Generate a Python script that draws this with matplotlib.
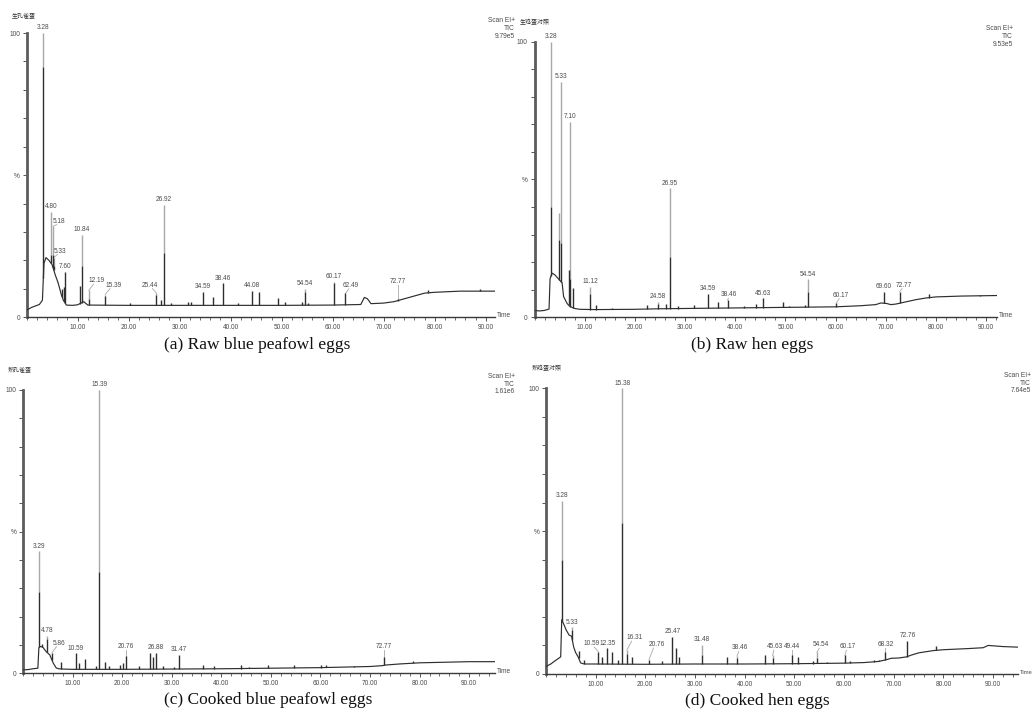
import numpy as np
import matplotlib
matplotlib.use("Agg")
import matplotlib.pyplot as plt
from matplotlib.ticker import MultipleLocator

# ---------------- data (retention time in min, intensity in %) ----------------
# (a) Raw blue peafowl eggs
a_base_t = [0, 1, 2.5, 3.1, 3.4, 3.8, 4.4, 5.0, 5.6, 6.2, 6.8, 7.2, 7.8, 9, 10, 11.2, 12, 20, 30, 40, 50, 60,
            65.5, 66.2, 66.8, 67.5, 70, 72, 74, 76, 78, 80, 85, 91.8]
a_base_v = [2.5, 3.5, 4.5, 6, 19, 21, 20, 18.5, 15, 12, 8, 6, 4.3, 4.2, 4.4, 5.5, 4.3, 4.2, 4.2, 4.2, 4.2, 4.3,
            4.5, 7, 6.5, 4.8, 5.0, 5.5, 6.5, 7.5, 8.5, 8.8, 9.2, 9.2]
a_peak_t = [3.28, 4.80, 5.18, 5.33, 6.95, 7.30, 7.60, 10.40, 10.84, 12.19, 15.39, 20.30, 25.44, 26.30, 26.92,
            28.30, 31.70, 32.20, 34.59, 36.50, 38.46, 41.50, 44.08, 45.60, 49.20, 50.70, 53.90, 54.54, 55.20,
            60.17, 62.49, 72.77, 78.60, 88.80]
a_peak_top = [100, 37, 32, 21, 10, 10.5, 16, 11, 29, 9.5, 8, 5, 8.5, 6, 39.5, 5, 5.5, 5.5, 9, 7, 12, 5, 9.4,
              8.8, 6.7, 5.5, 5.5, 10, 5, 12.5, 8.4, 6.8, 9.5, 9.8]
a_peak_dark = [88, 22, 22, 18, 10, 10.5, 16, 11, 18, 6.5, 7.5, 5, 8, 6, 22.5, 5, 5.5, 5.5, 9, 7, 12, 5, 9.4,
               8.8, 6.7, 5.5, 5.5, 9, 5, 12, 8.4, 6.5, 9.5, 9.8]
a_labels = ["3.28", "4.80", "5.18", "5.33", "7.60", "10.84", "12.19", "15.39", "25.44", "26.92", "34.59",
            "38.46", "44.08", "54.54", "60.17", "62.49", "72.77"]

# (b) Raw hen eggs
b_base_t = [0, 1, 2, 2.9, 3.1, 3.5, 4.0, 4.5, 5.0, 5.5, 5.8, 6.5, 7.0, 7.6, 8.0, 9, 12, 20, 25, 30, 40, 50, 60,
            65, 68, 69.0, 70.2, 71, 72, 74, 76, 78, 80, 85, 92.1]
b_base_v = [2.5, 2.3, 2.5, 3.0, 14, 16, 15.5, 14.5, 13.5, 12.5, 7.5, 5, 4, 3.5, 3.2, 2.9, 2.8, 2.9, 3.1, 3.2,
            3.4, 3.6, 3.8, 4.2, 4.6, 5.2, 5.0, 4.6, 4.8, 5.6, 6.4, 7.0, 7.4, 7.7, 7.9]
b_peak_t = [3.28, 4.95, 5.33, 6.80, 7.10, 7.60, 11.12, 12.30, 15.50, 22.50, 24.58, 26.20, 26.95, 28.50, 31.70,
            34.59, 36.50, 38.46, 41.80, 44.20, 45.63, 49.50, 50.80, 54.00, 54.54, 60.17, 69.60, 72.77, 78.60,
            88.80]
b_peak_top = [100, 38, 85.5, 17, 71, 10.6, 11, 4.5, 3.5, 4.5, 5.7, 5, 46.8, 4.2, 4.3, 8.5, 5.7, 6.3, 4, 5,
              6.9, 5.5, 4.2, 4.5, 13.8, 5.2, 9.3, 9.3, 8.6, 8.2]
b_peak_dark = [40, 28, 27, 17, 14, 10.6, 8.5, 4.5, 3.5, 4.5, 5.0, 5, 22, 4.2, 4.3, 8.5, 5.7, 6.3, 4, 5,
               6.9, 5.5, 4.2, 4.5, 9, 5.2, 9.3, 9.3, 8.6, 8.2]
b_labels = ["3.28", "5.33", "7.10", "11.12", "24.58", "26.95", "34.59", "38.46", "45.63", "54.54", "60.17",
            "69.60", "72.77"]

# (c) Cooked blue peafowl eggs
c_base_t = [0, 1, 2, 3.0, 3.2, 3.5, 4.0, 4.7, 5.4, 6.1, 6.7, 7.2, 8.0, 10, 20, 30, 40, 50, 60, 70, 72.5, 73,
            76, 80, 85, 90, 95.2]
c_base_v = [1.2, 1.3, 1.6, 1.8, 9, 9.5, 9.2, 7.6, 6.5, 3.6, 1.9, 1.6, 1.5, 1.4, 1.4, 1.5, 1.6, 1.8, 2.0, 2.4,
            2.7, 2.9, 3.3, 3.7, 3.9, 4.1, 4.1]
c_peak_t = [3.29, 3.90, 4.78, 5.86, 7.70, 10.59, 11.30, 12.50, 14.80, 15.39, 16.50, 17.30, 19.60, 20.20, 20.76,
            23.40, 25.60, 26.30, 26.88, 28.30, 30.40, 31.47, 36.30, 38.50, 44.00, 45.60, 49.50, 54.60, 60.20,
            61.20, 66.80, 72.77, 78.60]
c_peak_top = [43, 10.5, 13.3, 7.3, 4.0, 7.0, 3.5, 5.0, 2.5, 100, 4, 2.5, 3.0, 3.5, 6.1, 2.5, 7.0, 5.6, 7.3,
              2.5, 2.2, 6.5, 3.0, 2.5, 3.0, 2.4, 2.8, 3.0, 2.8, 3.0, 2.6, 5.8, 4.5]
c_peak_dark = [28.8, 10.5, 12, 7.0, 4.0, 7.0, 3.5, 5.0, 2.5, 35.9, 4, 2.5, 3.0, 3.5, 6.1, 2.5, 7.0, 5.6, 7.3,
               2.5, 2.2, 6.5, 3.0, 2.5, 3.0, 2.4, 2.8, 3.0, 2.8, 3.0, 2.6, 5.8, 4.5]
c_labels = ["3.29", "4.78", "5.86", "10.59", "15.39", "20.76", "26.88", "31.47", "72.77"]

# (d) Cooked hen eggs
d_base_t = [0, 1, 2, 3.0, 3.2, 3.6, 4.1, 4.7, 5.2, 5.6, 6.0, 6.5, 7.0, 7.5, 8.0, 10, 20, 30, 40, 50, 60, 64,
            67, 68.5, 69.5, 71, 72.6, 73.5, 75, 78, 80, 85, 88, 89, 92, 95]
d_base_v = [2.6, 3.5, 4.8, 6.0, 19, 17.5, 15.4, 13.6, 13.2, 9.5, 7.5, 6.0, 3.9, 3.6, 3.5, 3.5, 3.4, 3.5, 3.5,
            3.6, 3.8, 4.0, 4.4, 5.0, 5.5, 5.6, 6.0, 6.6, 7.4, 8.2, 8.5, 8.9, 9.2, 10.0, 9.6, 9.4]
d_peak_t = [3.28, 5.33, 6.60, 7.60, 10.59, 11.30, 12.35, 13.40, 14.60, 15.38, 16.31, 17.40, 20.76, 23.30,
            25.47, 26.20, 26.80, 31.48, 36.50, 38.46, 44.10, 45.63, 49.44, 50.80, 53.70, 54.54, 56.50, 60.17,
            61.20, 66.00, 67.00, 68.32, 72.76, 78.60]
d_peak_top = [60.7, 16.3, 8, 5, 7.8, 6.0, 9.0, 7.6, 5.0, 100, 8.4, 6.0, 5.0, 4.5, 13, 9, 6, 10.2, 6.0, 6.3,
              6.5, 6.5, 6.5, 6.1, 4.5, 7.6, 4.2, 6.5, 4.5, 5.0, 5.0, 7.6, 11.7, 9.9]
d_peak_dark = [40, 15.5, 8, 5, 7.8, 6.0, 9.0, 7.6, 5.0, 52.7, 7.0, 6.0, 5.0, 4.5, 13, 9, 6, 6.5, 6.0, 5.5,
               6.5, 5.5, 6.5, 6.1, 4.5, 5.5, 4.2, 6.5, 4.5, 5.0, 5.0, 7.6, 11.7, 9.9]
d_labels = ["3.28", "5.33", "10.59", "12.35", "15.38", "16.31", "20.76", "25.47", "31.48", "38.46", "45.63",
            "49.44", "54.54", "60.17", "68.32", "72.76"]

sample_names = ["生孔雀蛋", "生鸡蛋对照", "熟孔雀蛋", "熟鸡蛋对照"]
scan_info = ["Scan EI+\nTIC\n9.79e5", "Scan EI+\nTIC\n9.53e5", "Scan EI+\nTIC\n1.61e6", "Scan EI+\nTIC\n7.64e5"]
captions = ["(a) Raw blue peafowl eggs", "(b) Raw hen eggs", "(c) Cooked blue peafowl eggs", "(d) Cooked hen eggs"]
x_ticks = [10, 20, 30, 40, 50, 60, 70, 80, 90]
y_tick_labels = ["0", "", "", "", "", "%", "", "", "", "", "100"]

# ---------------- layout / style ----------------
W, H = 1033, 709
fig = plt.figure(figsize=(W / 100, H / 100), dpi=100)
TRACE = "#2e2e2e"
GRAY = "#a8a8a8"
TXT = "#4a4a4a"
SANS = "Liberation Sans"
CJK = ["Noto Sans CJK SC", "DejaVu Sans"]


def px_axes(x0, x1, y0, y100):
    return fig.add_axes([x0 / W, 1 - y0 / H, (x1 - x0) / W, (y0 - y100) / H])


def draw_panel(ax, xmax, bt, bv, pt, ptop, pdark, labels, shifts, time_fs):
    ax.set_xlim(0, xmax)
    ax.set_ylim(0, 100)
    ax.plot(bt, bv, color=TRACE, lw=0.85, zorder=3, solid_joinstyle="round")
    base_at = np.interp(pt, bt, bv)
    ax.vlines(pt, base_at, pdark, color=TRACE, lw=1.0, zorder=3)
    ax.vlines(pt, pdark, ptop, color=GRAY, lw=1.0, zorder=2)
    for lab in labels:
        i = int(np.argmin(np.abs(np.array(pt) - float(lab))))
        x, y = pt[i], ptop[i]
        dx, dy = shifts.get(lab, (0.0, 0.0))
        if dx or dy:
            ax.plot([x, x + dx * 0.6], [y, y + dy + 0.6], color=GRAY, lw=0.6, zorder=2, clip_on=False)
        ax.annotate(lab, (x + dx, y + dy), xytext=(0, 1.2), textcoords="offset points",
                    ha="center", va="bottom", fontsize=4.7, color=TXT, family=SANS,
                    annotation_clip=False)
    for s in ("top", "right"):
        ax.spines[s].set_visible(False)
    ax.spines["left"].set_linewidth(2.0)
    ax.spines["left"].set_color("#5c5c5c")
    ax.spines["bottom"].set_linewidth(1.0)
    ax.spines["bottom"].set_color("#3a3a3a")
    ax.set_yticks(np.arange(0, 101, 10))
    ax.set_yticklabels(y_tick_labels)
    ax.set_xticks(x_ticks)
    ax.set_xticklabels([f"{v:.2f}" for v in x_ticks])
    ax.xaxis.set_minor_locator(MultipleLocator(2))
    ax.tick_params(axis="both", which="major", length=3, width=0.7, color="#555555",
                   labelsize=4.7, labelcolor=TXT, pad=1.8)
    ax.tick_params(axis="x", which="minor", length=2, width=0.6, color="#555555")
    for t in ax.get_xticklabels() + ax.get_yticklabels():
        t.set_family(SANS)
    ax.annotate("Time", (1.0, 0.0), xycoords="axes fraction", xytext=(1.5, 1), textcoords="offset points",
                ha="left", va="center", fontsize=time_fs, color=TXT, family=SANS, annotation_clip=False)


panels = [
    dict(ax=(26.6, 495, 317.3, 33), xmax=91.8, data=(a_base_t, a_base_v, a_peak_t, a_peak_top, a_peak_dark, a_labels),
         shifts={"5.18": (1.2, 0), "5.33": (1.2, 0.5), "12.19": (1.5, 1.5), "15.39": (1.6, 1.5),
                 "25.44": (-1.3, 1.0), "62.49": (1.1, 1.0), "72.77": (0, 4.0)},
         name=(12, 16), scan=(515, 17), cap=(257, 345), tfs=4.7),
    dict(ax=(534.5, 996.7, 317.3, 41.7), xmax=92.1, data=(b_base_t, b_base_v, b_peak_t, b_peak_top, b_peak_dark, b_labels),
         shifts={"38.46": (0.3, 0), "60.17": (0.9, 1.0), "72.77": (0.8, 0.5)},
         name=(520, 22), scan=(1013, 25), cap=(752, 345), tfs=4.7),
    dict(ax=(23, 495, 673.3, 390), xmax=95.2, data=(c_base_t, c_base_v, c_peak_t, c_peak_top, c_peak_dark, c_labels),
         shifts={"5.86": (1.5, 1.5), "20.76": (0, 1.5), "72.77": (0, 2.0)},
         name=(8, 370), scan=(515, 373), cap=(268, 700), tfs=4.7),
    dict(ax=(545.8, 1018, 674, 388.3), xmax=95.0, data=(d_base_t, d_base_v, d_peak_t, d_peak_top, d_peak_dark, d_labels),
         shifts={"10.59": (-1.4, 1.0), "16.31": (1.6, 2.5), "20.76": (1.5, 3.5), "38.46": (0.6, 1.0),
                 "45.63": (0.4, 1.2), "49.44": (0, 1.2), "54.54": (0.8, 0.8), "60.17": (0.5, 1.2),
                 "68.32": (0, 1.0)},
         name=(532, 368), scan=(1031, 372), cap=(757, 701), tfs=4.2),
]

for k, p in enumerate(panels):
    ax = px_axes(*p["ax"])
    draw_panel(ax, p["xmax"], *p["data"], p["shifts"], p["tfs"])
    nx, ny = p["name"]
    fig.text(nx / W, 1 - ny / H, sample_names[k], ha="left", va="center", fontsize=4.3,
             family=CJK, color="#333333")
    sx, sy = p["scan"]
    fig.text(sx / W, 1 - sy / H, scan_info[k], ha="right", va="top", fontsize=4.8, family=SANS,
             color=TXT, multialignment="right", linespacing=1.15)
    cx, cy = p["cap"]
    fig.text(cx / W, 1 - cy / H, captions[k], ha="center", va="center", fontsize=12.5,
             family="Liberation Serif", color="#111111")

fig.savefig("out.png", dpi=100, facecolor="white")
